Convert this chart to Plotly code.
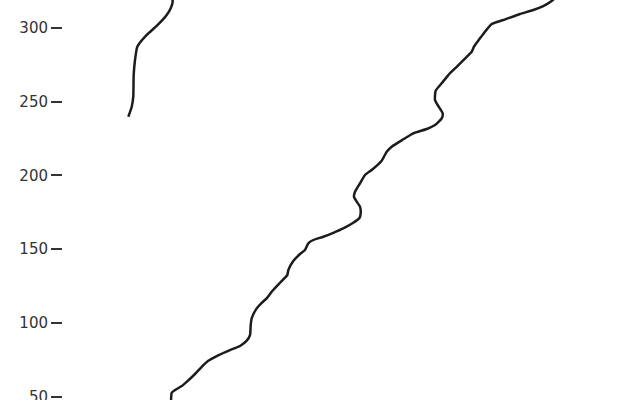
import plotly.graph_objects as go

# upper-left segment
seg1_x = [11.32, 11.91, 12.18, 12.25, 12.48, 12.88, 14.51, 16.24, 17.97, 18.67, 19.01, 18.89]
seg1_y = [239.8, 246.6, 253.4, 268.1, 278.3, 287.3, 295.3, 301.4, 308.8, 313.4, 317.8, 321.0]

# long diagonal segment
seg2_x = [18.72, 18.84, 19.41, 20.57, 21.44, 22.88, 24.04, 25.18, 26.64, 28.94,
          30.68, 31.84, 32.41, 32.53, 32.70, 33.57, 34.44, 35.30, 36.17, 37.61,
          38.87, 39.05, 39.91, 41.07, 41.94, 42.51, 43.38, 45.11, 46.85, 48.58,
          50.31, 51.35, 51.59, 51.47, 50.90, 50.43, 50.61, 51.47, 52.34, 53.50,
          55.23, 56.10, 56.97, 58.98, 60.71, 63.03, 64.47, 65.63, 65.81, 65.04,
          64.47, 64.59, 65.63, 66.78, 68.23, 69.97, 70.83, 71.23, 72.27, 73.14,
          74.30, 76.31, 79.20, 81.51, 83.24, 84.70, 85.27]
seg2_y = [46.3, 52.6, 54.4, 57.1, 60.0, 65.3, 70.2, 74.3, 77.5, 81.5,
          84.3, 87.9, 91.7, 98.5, 103.1, 109.8, 113.6, 116.6, 121.1, 127.2,
          132.4, 135.8, 141.9, 146.7, 149.4, 153.9, 156.2, 158.4, 161.1, 164.1,
          167.9, 170.9, 174.3, 178.8, 182.2, 185.5, 188.9, 194.6, 200.3, 203.7,
          210.0, 216.1, 219.5, 224.5, 228.6, 231.5, 234.2, 238.7, 242.1, 247.1,
          251.2, 257.5, 262.5, 268.1, 273.7, 280.5, 283.9, 287.3, 293.0, 297.5,
          302.7, 305.4, 309.5, 312.2, 314.9, 318.3, 320.4]

y_ticks = [50, 100, 150, 200, 250, 300]

fig = go.Figure()
for xs, ys in [(seg1_x, seg1_y), (seg2_x, seg2_y)]:
    fig.add_trace(go.Scatter(
        x=xs, y=ys, mode='lines',
        line=dict(color='#1c1c1c', width=2.5, shape='spline', smoothing=0.5),
        showlegend=False))

# the figure runs a bit past the bottom of the window, so the 50 label is cut
fig.update_xaxes(visible=False, range=[0, 100])
fig.update_yaxes(range=[34.1, 319.0], tickvals=y_ticks, automargin=False,
                 ticks='outside', ticklen=11, tickwidth=1.5, tickcolor='#333',
                 showgrid=False, zeroline=False, showline=False,
                 tickfont=dict(family='DejaVu Sans', size=15, color='#333'))
fig.update_layout(width=640, height=420,
                  margin=dict(l=63, r=0, t=0, b=0),
                  plot_bgcolor='white', paper_bgcolor='white')

# drop the browser's default page margin and scrollbars
fig.write_html("out.html", config={'displayModeBar': False},
               post_script="document.body.style.margin = '0';"
                           "document.body.style.overflow = 'hidden';")
